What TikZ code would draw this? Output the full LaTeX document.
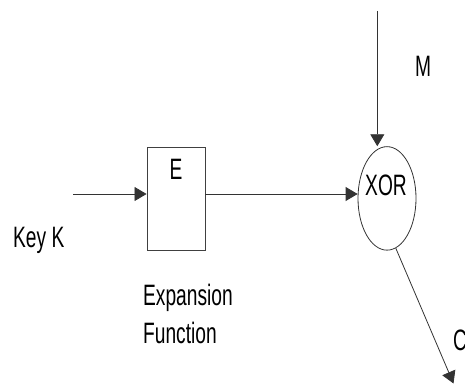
\documentclass[tikz,border=0pt]{standalone}
\usepackage{fontspec}
\usepackage{graphicx}
\setmainfont{Liberation Sans}
\usetikzlibrary{arrows.meta,shapes.geometric}
\newcommand{\narrowtxt}[1]{\scalebox{0.65}[1]{#1}}
\begin{document}
\begin{tikzpicture}[x=1pt,y=-1pt,
  lbl/.style={inner sep=0pt,font=\fontsize{29.5}{38}\selectfont},
  conn/.style={line width=0.8pt,draw=black!80,-{Triangle[length=12pt,width=14pt]}},
  boxstyle/.style={draw=black!75,line width=0.9pt,minimum width=58pt,minimum height=103pt,inner sep=0pt},
  ellstyle/.style={draw=black!80,line width=0.8pt,ellipse,minimum width=58pt,minimum height=103.5pt,inner sep=0pt}]
\useasboundingbox (0,0) rectangle (465,385);
\node[boxstyle] (ebox) at (176,198.7) {};
\node[lbl,anchor=base] (elbl) at (176,179) {\narrowtxt{E}};
\node[ellstyle] (xor) at (387,198.4) {};
\node[lbl,anchor=base] (xorlbl) at (386,195) {\narrowtxt{XOR}};
\node[lbl,anchor=base west] (key) at (13,247) {\narrowtxt{Key K}};
\node[lbl,anchor=base west] (m) at (415,77) {\narrowtxt{M}};
\node[lbl,anchor=base west] (c) at (453,350) {\narrowtxt{C}};
\node[lbl,anchor=base west,align=left] (exp) at (143,343) {\narrowtxt{Expansion}\\\narrowtxt{Function}};
\coordinate (kstart) at (73,194);
\coordinate (mtop) at (377.3,11);
\coordinate (ctip) at (453.5,383.5);
\draw[conn] (kstart) -- (kstart -| ebox.west);
\draw[conn] (ebox.east |- kstart) -- (kstart -| xor.west);
\draw[conn] (mtop) -- (mtop |- xor.north);
\draw[conn] (xor.-80) -- (ctip);
\end{tikzpicture}
\end{document}
